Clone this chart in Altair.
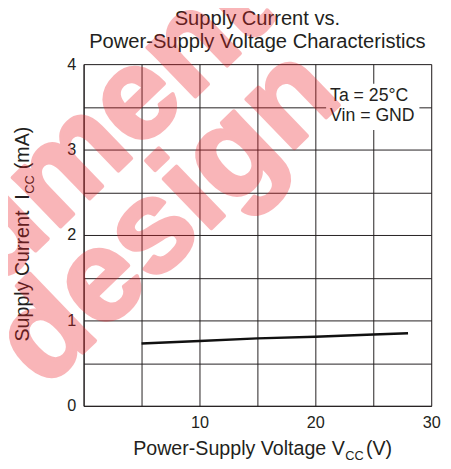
import altair as alt
import pandas as pd

# ---- data ----
voltage = [5, 10, 15, 20, 25, 28]
current = [0.73, 0.76, 0.79, 0.81, 0.835, 0.85]
x_grid = [0, 5, 10, 15, 20, 25, 30]
y_grid = [0, 0.5, 1, 1.5, 2, 2.5, 3, 3.5, 4]
title_lines = ["Supply Current vs.", "Power-Supply Voltage Characteristics"]
cond_lines = ["Ta = 25°C", "Vin = GND"]
x_title = ["Power-Supply Voltage V", "CC", "(V)"]
y_title = ["Supply Current", "I", "CC", "(mA)"]
watermark_words = ["document", "new", "design"]

FONT = "Liberation Sans"
INK = "#231f20"
W, H = 354, 348

df = pd.DataFrame({"v": voltage, "i": current})
one = pd.DataFrame({"k": [0]})

x_enc = alt.X("v:Q", scale=alt.Scale(domain=[0, 30], nice=False, zero=False),
              axis=alt.Axis(values=x_grid, title=None, ticks=False, grid=True,
                            labelExpr="datum.value % 10 == 0 && datum.value > 0 ? format(datum.value, 'd') : ''",
                            labelPadding=9, labelFontSize=16.5, labelFont=FONT,
                            labelColor=INK, gridColor=INK, gridOpacity=1, gridWidth=1,
                            domainColor=INK, labelFlush=False))
y_enc = alt.Y("i:Q", scale=alt.Scale(domain=[0, 4], nice=False, zero=False),
              axis=alt.Axis(values=y_grid, title=None, ticks=False, grid=True,
                            labelExpr="datum.value % 1 == 0 ? format(datum.value, 'd') : ''",
                            labelPadding=8, labelFontSize=16.5, labelFont=FONT,
                            labelColor=INK, gridColor=INK, gridOpacity=1, gridWidth=1,
                            domainColor=INK, labelFlush=False))

line = alt.Chart(df).mark_line(color="#111111", strokeWidth=2.5).encode(x=x_enc, y=y_enc)

box = alt.Chart(one).mark_rect(fill="white").encode(
    x=alt.datum(20.93), x2=alt.datum(28.98), y=alt.datum(3.77), y2=alt.datum(3.23))


def txt(s, x, y, size, align="left", baseline="alphabetic", angle=0, **kw):
    return alt.Chart(one).mark_text(text=s, align=align, baseline=baseline, angle=angle,
                                    fontSize=size, font=FONT, color=INK, **kw).encode(
        x=x, y=y)


cond1 = txt(cond_lines[0], alt.datum(21.27), alt.datum(3.563), 18)
cond2 = txt(cond_lines[1], alt.datum(21.27), alt.datum(3.33), 18)

t1 = txt(title_lines[0], alt.value(W / 2), alt.value(-40.3), 20.5, align="center")
t2 = txt(title_lines[1], alt.value(W / 2), alt.value(-16.7), 20.5, align="center")

xt1 = txt(x_title[0], alt.value(266), alt.value(398), 20, align="right")
xt2 = txt(x_title[1], alt.value(266.5), alt.value(403), 13)
xt3 = txt(x_title[2], alt.value(287.5), alt.value(398), 20)

yt1 = txt(y_title[0], alt.value(-55.5), alt.value(282.5), 20, angle=270)
yt2 = txt(y_title[1], alt.value(-55.5), alt.value(138), 20, angle=270)
yt3 = txt(y_title[2], alt.value(-51), alt.value(132), 13, angle=270)
yt4 = txt(y_title[3], alt.value(-55.5), alt.value(107), 20, angle=270)


def wm(s, x, y):
    return alt.Chart(one).mark_text(text=s, align="center", baseline="middle",
                                    angle=316, fontSize=132, fontWeight="bold", font=FONT,
                                    color="#ee1c25", stroke="#ee1c25", strokeWidth=4,
                                    strokeJoin="round", opacity=0.32).encode(
        x=alt.value(x), y=alt.value(y))


wm1 = wm(watermark_words[0], -58, 143)
wm2 = wm(watermark_words[1], -192, 422)
wm3 = wm(watermark_words[2], 85, 155)

chart = alt.layer(line, box, cond1, cond2, t1, t2, xt1, xt2, xt3,
                  yt1, yt2, yt3, yt4, wm1, wm2, wm3).properties(
    width=W, height=H,
    autosize=alt.AutoSizeParams(type="none"),
    padding={"left": 77, "top": 53, "right": 12, "bottom": 52},
).configure_view(stroke=INK, strokeWidth=1).configure(background="white")

chart.save("out.html", embed_options={"renderer": "svg", "actions": False})
